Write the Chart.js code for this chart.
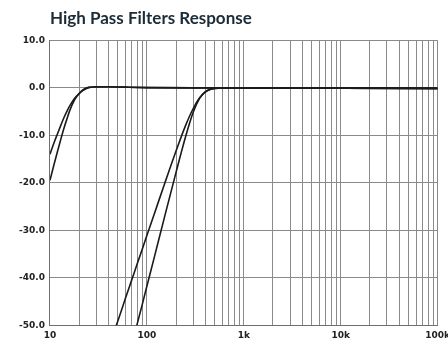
<!DOCTYPE html>
<html>
<head>
<meta charset="utf-8">
<script src="https://cdn.jsdelivr.net/npm/chart.js@4.4.0/dist/chart.umd.min.js"></script>
<style>
  html, body { margin: 0; padding: 0; background: #fff; overflow: hidden; }
  #wrap { width: 448px; height: 344px; overflow: hidden; }
</style>
</head>
<body>
<div id="wrap"><canvas id="hpChart" width="455" height="346"></canvas></div>
<script>
// frequency grid (Hz) and labels shown on the x axis
const freqTicks = [10, 20, 30, 40, 50, 60, 70, 80, 90,
  100, 200, 300, 400, 500, 600, 700, 800, 900,
  1000, 2000, 3000, 4000, 5000, 6000, 7000, 8000, 9000,
  10000, 20000, 30000, 40000, 50000, 60000, 70000, 80000, 90000, 100000];
const freqLabels = { 10: '10', 100: '100', 1000: '1k', 10000: '10k', 100000: '100k' };
const dbTicks = [10, 0, -10, -20, -30, -40, -50];

// low cutoff, 24 dB/oct
const lowSteepFreq = [10, 11, 12, 13, 14, 15, 16, 18, 20, 22, 25, 30, 40, 60, 100, 300, 1000, 10000, 100000];
const lowSteepDb = [-19.5, -16.2, -13.3, -10.7, -8.4, -6.5, -4.8, -2.5, -1.2, -0.4, 0.1, 0.25, 0.25, 0.15, 0.05, 0, 0, -0.05, -0.1];
// low cutoff, 18 dB/oct
const lowSoftFreq = [10, 11, 12, 13, 14, 15, 16, 18, 20, 22, 25, 30, 40, 60, 100, 300, 1000, 10000, 100000];
const lowSoftDb = [-14.0, -11.6, -9.6, -7.8, -6.2, -4.9, -3.8, -2.2, -1.2, -0.5, 0.05, 0.2, 0.25, 0.15, 0.05, 0, 0, -0.05, -0.1];
// high cutoff, 18 dB/oct
const highSoftFreq = [45, 50, 60, 70, 80, 90, 100, 120, 150, 200, 250, 300, 350, 400, 450, 500, 600, 800, 1000, 10000, 100000];
const highSoftDb = [-51.9, -49.2, -44.4, -40.4, -36.9, -33.9, -31.1, -26.4, -20.6, -13.3, -8.0, -4.4, -2.1, -0.9, -0.35, -0.1, 0, 0, 0, -0.05, -0.1];
// high cutoff, 24 dB/oct
const highSteepFreq = [70, 80, 90, 100, 120, 150, 200, 250, 300, 350, 400, 450, 500, 600, 800, 1000, 10000, 100000];
const highSteepDb = [-54.2, -49.5, -45.5, -41.8, -35.5, -27.7, -17.8, -10.4, -5.2, -2.2, -0.85, -0.3, -0.1, 0, 0, 0, -0.05, -0.1];

function toPoints(xs, ys) {
  return xs.map((x, i) => ({ x: x, y: ys[i] }));
}

function curve(xs, ys) {
  return {
    data: toPoints(xs, ys),
    borderColor: '#1b1b1b',
    borderWidth: 1.6,
    pointRadius: 0,
    fill: false,
    cubicInterpolationMode: 'monotone'
  };
}

const tickFont = { family: 'DejaVu Sans', size: 9, weight: 'bold' };

new Chart(document.getElementById('hpChart'), {
  type: 'line',
  data: {
    datasets: [
      curve(lowSteepFreq, lowSteepDb),
      curve(lowSoftFreq, lowSoftDb),
      curve(highSoftFreq, highSoftDb),
      curve(highSteepFreq, highSteepDb)
    ]
  },
  options: {
    responsive: false,
    animation: false,
    layout: { padding: { left: 14, right: 0, top: 0, bottom: 0 } },
    plugins: {
      legend: { display: false },
      tooltip: { enabled: false },
      title: {
        display: true,
        text: 'High Pass Filters Response',
        align: 'start',
        fullSize: false,
        color: '#1c2b36',
        font: { family: 'Lato', size: 17, weight: 'bold' },
        padding: { top: 8, bottom: 12 }
      }
    },
    scales: {
      x: {
        type: 'logarithmic',
        min: 10,
        max: 100000,
        afterBuildTicks: (scale) => {
          scale.ticks = freqTicks.map(v => ({ value: v }));
        },
        grid: { color: '#8a8a8a', lineWidth: 1, drawTicks: false },
        border: { color: '#6f6f6f', width: 1 },
        ticks: {
          autoSkip: false,
          maxRotation: 0,
          padding: 5,
          color: '#222',
          font: tickFont,
          callback: (v) => freqLabels[v] || ''
        }
      },
      y: {
        min: -50,
        max: 10,
        afterBuildTicks: (scale) => {
          scale.ticks = dbTicks.map(v => ({ value: v }));
        },
        grid: { color: '#8a8a8a', lineWidth: 1, drawTicks: false },
        border: { color: '#6f6f6f', width: 1 },
        ticks: {
          padding: 5,
          color: '#222',
          font: tickFont,
          callback: (v) => v.toFixed(1)
        }
      }
    }
  }
});
</script>
</body>
</html>
